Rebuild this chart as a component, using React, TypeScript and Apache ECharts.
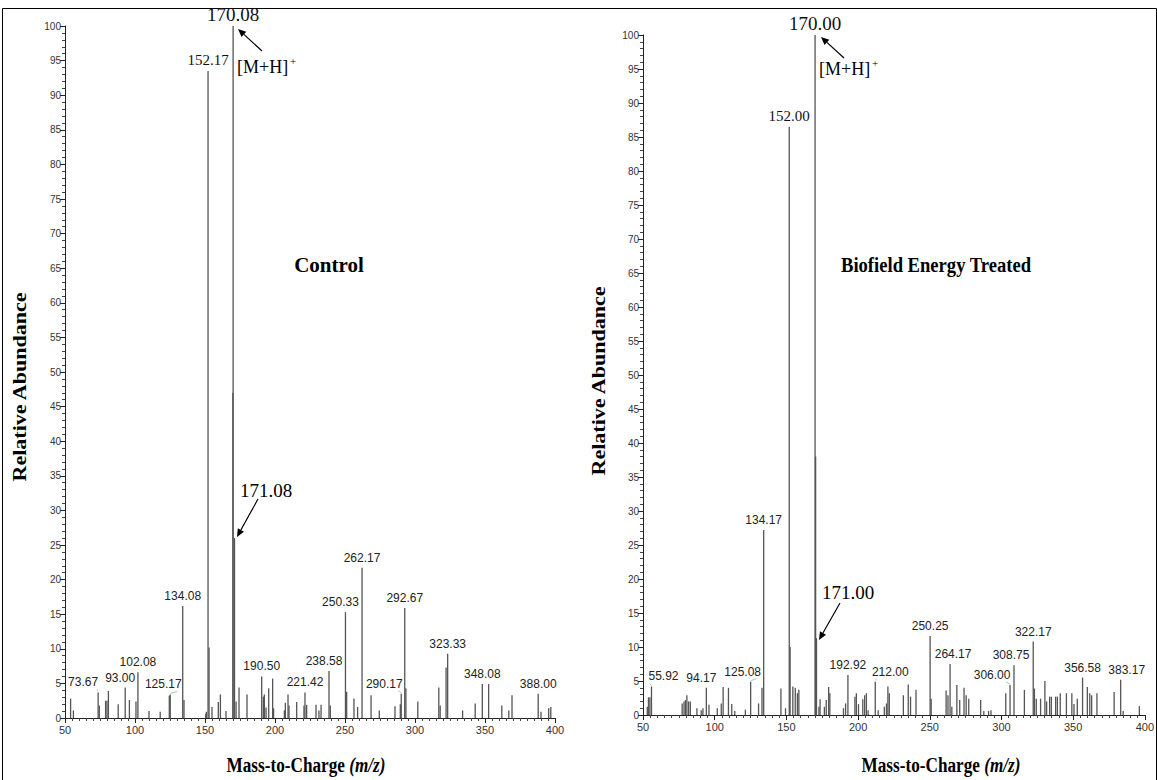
import React, { useEffect, useRef } from "react";
import * as echarts from "echarts";

// ---------- DATA ----------
// Control spectrum: [m/z, relative abundance]
const controlPeaks: [number, number][] = [
  [54, 2.8], [56, 1.1], [73.67, 3.7], [74.5, 1.8], [79, 2.5], [80, 2.5], [81, 3.9], [88, 2.0],
  [93, 4.4], [96, 2.6], [100.7, 2.4], [102.08, 6.6], [110, 1.0], [118, 0.9], [124.5, 3.2],
  [125.17, 3.4], [134.08, 16.2], [135, 2.6], [150.5, 0.6], [151, 0.9], [152.17, 93.5],
  [152.9, 10.2], [155, 1.6], [159.5, 2.3], [161, 3.4], [165, 1.0], [169.9, 47], [170.08, 100],
  [171.08, 26], [172.2, 2.4], [174.3, 4.4], [180, 3.4], [190.5, 6.0], [191.7, 3.1], [192.4, 3.4],
  [193.6, 1.5], [195.5, 4.3], [198.3, 5.7], [199, 1.4], [206.7, 1.1], [207.4, 2.2], [209.3, 3.4],
  [210, 1.8], [215.5, 2.3], [220.7, 1.8], [221.42, 3.7], [222.6, 1.9], [229.3, 1.9], [231.4, 1.1],
  [232.9, 1.9], [238.58, 6.8], [239.5, 1.8], [250.33, 15.3], [251.2, 3.8], [256.4, 2.8], [259, 1.6],
  [262.17, 21.7], [268.6, 3.3], [274.5, 1.1], [285.7, 1.7], [289.5, 2.0], [290.17, 3.5],
  [292.67, 15.9], [293.5, 4.3], [302, 2.4], [317, 4.4], [318, 1.8], [322.2, 7.3], [323.33, 9.3],
  [334, 1.1], [343, 2.1], [348.08, 4.9], [352.6, 4.9], [362, 1.8], [367, 1.1], [369.3, 3.3],
  [388, 3.5], [390, 0.9], [395.5, 1.4], [397, 1.6],
];
const controlLabelled = [73.67, 93, 102.08, 125.17, 134.08, 190.5, 221.42, 238.58, 250.33, 262.17, 290.17, 292.67, 323.33, 348.08, 388];
const controlBig = [152.17, 170.08];

// Biofield Energy Treated spectrum
const treatedPeaks: [number, number][] = [
  [53, 1.2], [53.8, 2.6], [54.8, 2.6], [55.92, 4.2], [77.3, 1.7], [78.6, 2.0], [79.6, 2.2],
  [80.6, 2.9], [81.8, 2.0], [83, 2.0], [87.6, 1.0], [90.6, 0.7], [91.8, 1.0], [94.17, 4.0],
  [96, 1.5], [101.8, 1.0], [104.6, 1.7], [105.9, 4.1], [109.6, 4.0], [111.9, 1.6], [114, 0.6],
  [121.4, 0.8], [125.08, 4.9], [130.6, 1.7], [133, 4.0], [134.17, 27.2], [146.2, 3.9], [149.4, 1.0],
  [152, 86.5], [152.6, 10], [154.5, 4.2], [156.2, 4.0], [157.7, 3.2], [158.7, 3.7], [170, 100],
  [170.4, 38], [171, 11.3], [172.7, 1.2], [173.5, 2.3], [176.5, 1.2], [177.8, 2.2], [179.5, 4.1],
  [180.3, 3.2], [189.8, 1.0], [191.3, 1.7], [192.92, 5.9], [197.8, 2.7], [198.8, 3.2], [200.3, 1.6],
  [203.3, 2.3], [204.6, 2.9], [205.8, 3.2], [207, 0.7], [212, 4.9], [214, 0.7], [218.3, 1.2],
  [219.8, 1.7], [220.8, 4.2], [221.8, 3.2], [231.6, 2.9], [235, 4.5], [236.6, 2.7], [240.4, 3.7],
  [250.25, 11.6], [251, 2.4], [261.4, 3.6], [262.7, 2.9], [264.17, 7.5], [265.4, 1.2], [268.9, 4.4],
  [270.9, 2.2], [273.9, 4.0], [275.4, 2.9], [277.2, 2.4], [285.5, 2.2], [287.7, 0.6], [291, 0.6],
  [292.7, 0.7], [303, 3.2], [306, 4.4], [308.75, 7.3], [316, 3.7], [322.17, 10.8], [323, 3.9],
  [324.3, 2.4], [327.3, 2.4], [330.3, 5.0], [331.5, 2.0], [333.6, 2.7], [334.8, 2.7], [337.8, 2.7],
  [339, 2.7], [341, 3.2], [345.3, 3.2], [349.1, 3.2], [350.6, 1.6], [352.9, 2.4], [356.58, 5.5],
  [359.9, 4.1], [361.6, 3.2], [362.9, 2.9], [366.6, 3.2], [378.6, 3.4], [383.17, 5.2], [384.9, 0.6],
  [396.2, 1.3],
];
const treatedLabelled = [55.92, 94.17, 125.08, 134.17, 192.92, 212, 250.25, 264.17, 306, 308.75, 322.17, 356.58, 383.17];
const treatedBig = [152, 170];

const xTicks = [50, 400, 50]; // min, max, interval
const yTicks = [0, 100, 5];

// label shifts (layout only)
const controlShift: Record<string, number> = { "73.67": -15, "93.00": -5, "125.17": -7, "238.58": -5, "250.33": -5, "290.17": -17 };
const treatedShift: Record<string, number> = { "55.92": 12, "94.17": -5, "125.08": -8, "212.00": 15, "264.17": 3, "306.00": -18, "308.75": -3, "383.17": 6 };

const SANS = "Liberation Sans, Arial, sans-serif";
const SERIF = "Liberation Serif, Times New Roman, serif";

function buildSeries(peaks: [number, number][], labelled: number[], big: number[], shift: Record<string, number>, idx: number) {
  const data = peaks.map(([mz, ab]) => {
    const txt = mz.toFixed(2);
    const item: any = { value: [mz, ab] };
    if (labelled.includes(mz)) {
      const dx = shift[txt] || 0;
      item.label = { show: true, formatter: txt, offset: [dx, 0], fontFamily: SANS, fontSize: 12, color: "#222" };
    } else if (big.includes(mz)) {
      const top = ab >= 99.9;
      item.label = { show: true, formatter: txt, fontFamily: SERIF, fontSize: top ? 19 : 15, color: "#111", distance: top ? 2 : 3 };
    }
    return item;
  });
  return {
    type: "bar",
    xAxisIndex: idx,
    yAxisIndex: idx,
    barWidth: 1.3,
    data,
    itemStyle: { color: "#555" },
    label: { show: false, position: "top", distance: 4 },
    z: 3,
  };
}

function leaderLines(peaks: [number, number][], labelled: number[], shift: Record<string, number>) {
  return peaks.filter(([mz]) => labelled.includes(mz) && Math.abs(shift[mz.toFixed(2)] || 0) >= 7);
}

function arrow(x1: number, y1: number, x2: number, y2: number) {
  const ang = Math.atan2(y2 - y1, x2 - x1);
  const L = 8, W = 3.5;
  const bx = x2 - L * Math.cos(ang), by = y2 - L * Math.sin(ang);
  const px = -Math.sin(ang) * W, py = Math.cos(ang) * W;
  return [
    { type: "line", shape: { x1, y1, x2: bx, y2: by }, style: { stroke: "#000", lineWidth: 1.2 }, z: 10 },
    { type: "polygon", shape: { points: [[x2, y2], [bx + px, by + py], [bx - px, by - py]] }, style: { fill: "#000" }, z: 10 },
  ];
}

function axisPair(idx: number) {
  return {
    x: {
      type: "value", gridIndex: idx, min: xTicks[0], max: xTicks[1], interval: xTicks[2],
      axisLine: { show: true, lineStyle: { color: "#222", width: 1 } },
      axisTick: { show: true, length: 5, lineStyle: { color: "#222" } },
      minorTick: { show: true, splitNumber: 10, length: 3, lineStyle: { color: "#444" } },
      axisLabel: { fontFamily: SANS, fontSize: 11, color: "#333", margin: 6 },
      splitLine: { show: false },
    },
    y: {
      type: "value", gridIndex: idx, min: yTicks[0], max: yTicks[1], interval: yTicks[2],
      axisLine: { show: true, lineStyle: { color: "#222", width: 1 } },
      axisTick: { show: true, length: 5, lineStyle: { color: "#222" } },
      minorTick: { show: true, splitNumber: 5, length: 3, lineStyle: { color: "#444" } },
      axisLabel: { fontFamily: SANS, fontSize: 10, color: "#333", margin: 4 },
      splitLine: { show: false },
    },
  };
}

export default function App() {
  const ref = useRef<HTMLDivElement>(null);
  useEffect(() => {
    if (!ref.current) return;
    const chart = echarts.init(ref.current, undefined, { renderer: "svg" });
    const a0 = axisPair(0), a1 = axisPair(1);

    const leaderSeries = (peaks: [number, number][], labelled: number[], shift: Record<string, number>, idx: number) => ({
      type: "custom",
      xAxisIndex: idx,
      yAxisIndex: idx,
      silent: true,
      z: 4,
      data: leaderLines(peaks, labelled, shift).map(([mz, ab]) => [mz, ab, shift[mz.toFixed(2)]]),
      renderItem: (params: any, api: any) => {
        const p = api.coord([api.value(0), api.value(1)]);
        const dx = api.value(2);
        const sx = p[0] + dx + (dx < 0 ? 14 : -14);
        return {
          type: "line",
          shape: { x1: sx, y1: p[1] - 3, x2: p[0], y2: p[1] - 1 },
          style: { stroke: "#9fd39f", lineWidth: 1 },
        };
      },
    });

    const axTitle = (x: number, rich: boolean) =>
      rich
        ? { type: "text", x, y: 765, scaleX: 0.86, style: { text: "{a|Mass-to-Charge }{b|(m/z)}", align: "center", verticalAlign: "middle", rich: { a: { font: `bold 20px ${SERIF}`, fill: "#000" }, b: { font: `italic bold 20px ${SERIF}`, fill: "#000" } } } }
        : null;

    const graphic: any[] = [
      { type: "polyline", shape: { points: [[2.5, 780], [2.5, 8.5], [1156.5, 8.5], [1156.5, 780]] }, style: { stroke: "#000", fill: "none", lineWidth: 1 } },
      { type: "text", x: 19, y: 387, rotation: Math.PI / 2, scaleY: 0.88, style: { text: "Relative Abundance", font: `bold 22px ${SERIF}`, fill: "#000", align: "center", verticalAlign: "middle" } },
      { type: "text", x: 598, y: 381, rotation: Math.PI / 2, scaleY: 0.88, style: { text: "Relative Abundance", font: `bold 22px ${SERIF}`, fill: "#000", align: "center", verticalAlign: "middle" } },
      axTitle(306, true),
      axTitle(941, true),
      { type: "text", x: 329, y: 265, style: { text: "Control", font: `bold 21px ${SERIF}`, fill: "#000", align: "center", verticalAlign: "middle" } },
      { type: "text", x: 936, y: 265, scaleX: 0.93, style: { text: "Biofield Energy Treated", font: `bold 20px ${SERIF}`, fill: "#000", align: "center", verticalAlign: "middle" } },
      // left annotations
      { type: "text", x: 237, y: 67, style: { text: "[M+H]", font: `18px ${SERIF}`, fill: "#000", align: "left", verticalAlign: "middle" } },
      { type: "text", x: 290, y: 61, style: { text: "+", font: `11px ${SERIF}`, fill: "#000", align: "left", verticalAlign: "middle" } },
      ...arrow(262, 51, 238, 29),
      { type: "text", x: 266, y: 490, style: { text: "171.08", font: `19px ${SERIF}`, fill: "#000", align: "center", verticalAlign: "middle" } },
      ...arrow(258, 499, 237, 537),
      // right annotations
      { type: "text", x: 819, y: 69, style: { text: "[M+H]", font: `18px ${SERIF}`, fill: "#000", align: "left", verticalAlign: "middle" } },
      { type: "text", x: 872, y: 63, style: { text: "+", font: `11px ${SERIF}`, fill: "#000", align: "left", verticalAlign: "middle" } },
      ...arrow(844, 58, 821, 37),
      { type: "text", x: 848, y: 592, style: { text: "171.00", font: `19px ${SERIF}`, fill: "#000", align: "center", verticalAlign: "middle" } },
      ...arrow(840, 603, 819, 640),
    ];

    chart.setOption({
      animation: false,
      backgroundColor: "#fff",
      grid: [
        { left: 65, top: 26, width: 490, height: 692, containLabel: false },
        { left: 643, top: 35, width: 505, height: 680, containLabel: false },
      ],
      xAxis: [a0.x, a1.x],
      yAxis: [a0.y, a1.y],
      series: [
        buildSeries(controlPeaks, controlLabelled, controlBig, controlShift, 0),
        buildSeries(treatedPeaks, treatedLabelled, treatedBig, treatedShift, 1),
        leaderSeries(controlPeaks, controlLabelled, controlShift, 0),
        leaderSeries(treatedPeaks, treatedLabelled, treatedShift, 1),
      ],
      graphic,
    });
    return () => chart.dispose();
  }, []);
  return <div ref={ref} style={{ position: "absolute", left: 0, top: 0, width: 1157, height: 780, background: "#fff" }} />;
}
